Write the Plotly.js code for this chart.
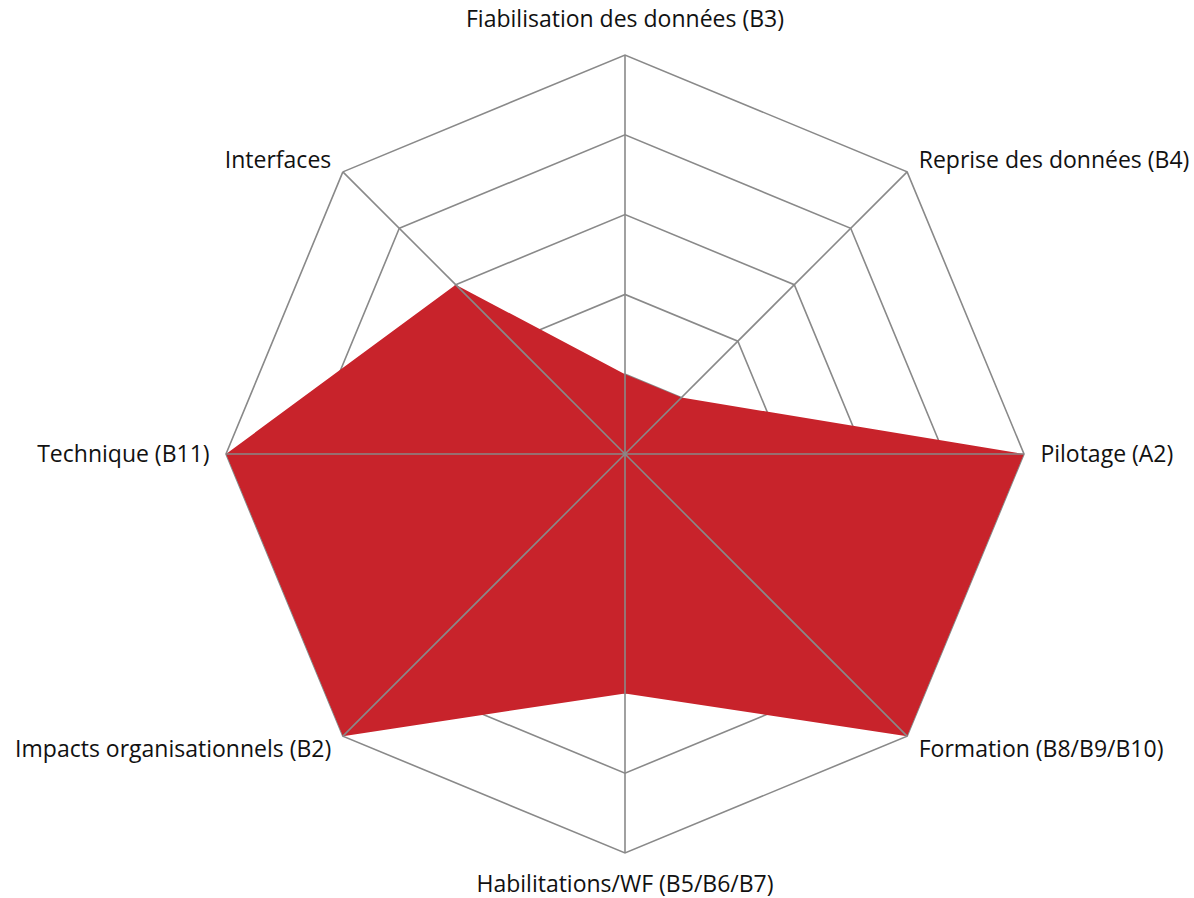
<!DOCTYPE html>
<html>
<head>
<meta charset="utf-8">
<script src="https://cdn.plot.ly/plotly-3.0.1.min.js"></script>
<style>html,body{margin:0;padding:0;background:#fff;}#chart{width:1194px;height:898px;}</style>
</head>
<body>
<div id="chart"></div>
<script>
var categories = ["Fiabilisation des données (B3)", "Reprise des données (B4)", "Pilotage (A2)", "Formation (B8/B9/B10)", "Habilitations/WF (B5/B6/B7)", "Impacts organisationnels (B2)", "Technique (B11)", "Interfaces"];
var values = [1, 1, 5, 5, 3, 5, 5, 3];
var maxValue = 5;
var gridColor = "#898989";

var traces = [{
  type: "scatterpolar",
  r: values.concat([values[0]]),
  theta: categories.concat([categories[0]]),
  fill: "toself",
  fillcolor: "#C8232B",
  line: {color: "#C8232B", width: 0},
  mode: "lines",
  hoverinfo: "skip",
  showlegend: false
}];
categories.forEach(function (c) {
  traces.push({
    type: "scatterpolar",
    r: [0, maxValue],
    theta: [c, c],
    mode: "lines",
    line: {color: gridColor, width: 1.6},
    hoverinfo: "skip",
    showlegend: false
  });
});

var layout = {
  width: 1194,
  height: 898,
  margin: {l: 226, r: 170, t: 55, b: 45},
  paper_bgcolor: "#fff",
  plot_bgcolor: "#fff",
  showlegend: false,
  font: {family: "Open Sans, sans-serif", size: 23, color: "#111"},
  polar: {
    domain: {x: [0, 1], y: [0, 1]},
    gridshape: "linear",
    bgcolor: "#fff",
    radialaxis: {
      range: [0, maxValue],
      dtick: 1,
      showticklabels: false,
      ticks: "",
      showline: false,
      gridcolor: gridColor,
      gridwidth: 1.6,
      layer: "below traces"
    },
    angularaxis: {
      direction: "clockwise",
      rotation: 90,
      categoryarray: categories,
      categoryorder: "array",
      showgrid: false,
      showline: true,
      linecolor: gridColor,
      linewidth: 1.6,
      ticks: "outside",
      ticklen: 11,
      tickcolor: "rgba(0,0,0,0)",
      layer: "below traces",
      tickfont: {family: "Open Sans, sans-serif", size: 23, color: "#111"}
    }
  }
};

// small vertical nudges (px) for label placement
var labelNudgeY = [-7, 5, 0, -13, 0, -13, 0, 5];

Plotly.newPlot("chart", traces, layout, {displayModeBar: false, staticPlot: true}).then(function (gd) {
  var ticks = gd.querySelectorAll("g.angularaxistick");
  ticks.forEach(function (g) {
    var t = g.querySelector("text");
    if (!t) return;
    var idx = categories.indexOf(t.textContent);
    if (idx < 0 || !labelNudgeY[idx]) return;
    var tr = g.getAttribute("transform") || "";
    g.setAttribute("transform", tr + " translate(0," + labelNudgeY[idx] + ")");
  });
});
</script>
</body>
</html>
